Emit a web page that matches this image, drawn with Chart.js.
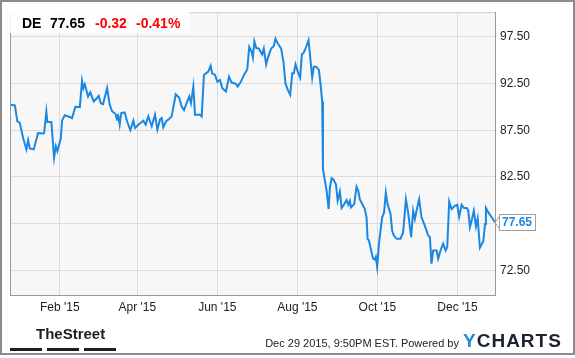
<!DOCTYPE html>
<html>
<head>
<meta charset="utf-8">
<script src="https://cdn.jsdelivr.net/npm/chart.js"></script>
<style>
  html, body { margin: 0; padding: 0; background: #fff; }
  #wrap { position: relative; width: 575px; height: 358px; overflow: hidden; font-family: "Liberation Sans", Arial, sans-serif; }
  #chart { position: absolute; left: 0; top: 0; }
  .abs { position: absolute; white-space: nowrap; }
  #frame { position: absolute; left: 0; top: 0; width: 575px; height: 355px; box-sizing: border-box; border: 2px solid #8c8c8c; pointer-events: none; }
  #quote { position: absolute; left: 10px; top: 10px; width: 180px; height: 23px; background: rgba(255,255,255,0.85); }
  .q { position: absolute; top: 5px; font: bold 14px/16px "Liberation Sans", Arial, sans-serif; }
  .bar { position: absolute; top: 348px; height: 3px; width: 32px; background: #1e1e1e; }
</style>
</head>
<body>
<div id="wrap">
  <canvas id="chart" width="575" height="358"></canvas>
  <div id="quote">
    <span class="q" style="left:12px;color:#000">DE</span>
    <span class="q" style="left:40px;color:#000">77.65</span>
    <span class="q" style="left:85px;color:#f00">-0.32</span>
    <span class="q" style="left:126px;color:#f00">-0.41%</span>
  </div>
  <div class="abs" style="left:36px;top:326px;font:bold 15px/16px 'Liberation Sans Narrow','Arial Narrow',sans-serif;color:#1e1e1e;">TheStreet</div>
  <div class="bar" style="left:10px"></div>
  <div class="bar" style="left:47px"></div>
  <div class="bar" style="left:84px"></div>
  <div class="abs" style="right:116px;top:337px;font:11px/13px 'Liberation Sans',Arial,sans-serif;color:#222;">Dec 29 2015, 9:50PM EST. Powered by</div>
  <div class="abs" style="left:463px;top:331px;font:bold 19px/19px 'Liberation Sans',Arial,sans-serif;letter-spacing:1px;color:#1c2331;"><span style="color:#1b8de0">Y</span>CHARTS</div>
  <div id="frame"></div>
</div>
<script>
// day number: 0 = Jan 1 2015
const days = [-6.4, -3.3, -1.4, 0.5, 3.0, 5.5, 6.8, 8.1, 11.1, 14.4, 18.2, 19.0, 20.7, 21.5, 24.5, 26.6, 27.9, 29.1,
  31.7, 32.7, 34.7, 38.5, 40.3, 42.8, 46.2, 47.9, 48.9, 50.0, 52.5, 54.2, 56.8, 58.8, 60.6, 62.2, 63.9, 67.0,
  69.0, 70.8, 73.3, 74.6, 75.3, 76.6, 77.8, 80.4, 82.2, 84.7, 87.0, 88.3, 90.8, 94.6, 96.4, 98.4, 101.0, 103.5,
  105.3, 107.3, 108.6, 109.8, 111.9, 113.6, 116.2, 119.3, 121.8, 123.8, 125.6, 127.6, 129.6, 130.9, 132.7, 134.0,
  137.8, 139.1, 140.8, 144.1, 145.9, 147.1, 149.2, 151.0, 153.0, 154.8, 157.6, 159.9, 161.9, 165.2, 166.5, 169.0,
  171.3, 173.8, 175.3, 177.2, 178.1, 179.2, 180.6, 182.6, 185.1, 186.4, 188.2, 189.4, 192.0, 194.1, 195.3, 197.1,
  199.6, 201.4, 202.9, 204.7, 206.5, 208.1, 209.3, 210.6, 212.3, 214.1, 215.4, 216.9, 218.7, 220.5, 222.0, 223.3,
  224.5, 226.3, 228.4, 229.7, 230.9, 231.5, 233.0, 234.3, 235.8, 236.8, 238.1, 239.3, 241.4, 242.7, 244.4, 245.7,
  247.7, 249.5, 250.8, 252.0, 252.8, 255.3, 257.1, 258.4, 259.6, 263.4, 264.7, 265.5, 266.5, 268.5, 269.7, 271.0,
  271.8, 272.8, 274.3, 276.6, 278.1, 279.4, 280.7, 283.0, 284.2, 285.5, 287.6, 290.6, 292.6, 294.7, 296.4, 298.7,
  300.2, 301.5, 302.8, 304.8, 306.6, 309.1, 311.7, 313.0, 314.2, 315.5, 318.1, 319.3, 321.1, 323.1, 325.0, 326.2,
  327.7, 329.5, 332.0, 333.8, 335.3, 337.2, 338.9, 341.0, 342.2, 343.5, 344.8, 346.5, 348.1, 349.4, 351.1, 353.7,
  355.0, 355.7, 357.5, 360.9, 362.6];
const prices = [90.23, 90.16, 88.46, 88.28, 86.68, 85.45, 86.44, 85.55, 85.45, 87.2, 87.15, 87.2, 89.52, 88.38, 88.38, 84.55, 85.8, 85.27,
  86.62, 88.53, 89.1, 88.92, 88.81, 90.02, 89.98, 92.79, 92.0, 92.43, 91.12, 91.57, 90.59, 90.87, 91.19, 90.4, 90.3, 92.02,
  90.23, 89.52, 89.27, 88.64, 89.24, 88.1, 89.34, 89.41, 88.46, 87.5, 88.53, 87.75, 88.1, 88.53, 88.1, 88.99, 87.93, 89.17,
  87.57, 88.64, 88.81, 87.82, 88.46, 88.64, 88.99, 91.36, 91.01, 90.05, 89.66, 90.41, 91.12, 90.41, 92.18, 89.17,
  89.17, 88.99, 93.43, 93.78, 94.41, 93.6, 93.43, 92.71, 92.89, 92.0, 91.65, 93.24, 92.61, 92.47, 92.18, 92.71,
  93.43, 94.02, 96.44, 95.9, 95.3, 97.04, 96.33, 96.26, 95.62, 96.26, 94.55, 95.2, 96.26, 96.54, 97.32, 96.79,
  96.26, 94.84, 92.53, 91.83, 91.3, 93.6, 93.6, 94.55, 93.78, 93.14, 95.62, 95.83, 96.44, 97.15, 95.02, 93.14,
  94.31, 94.31, 93.96, 92.36, 90.59, 83.32, 82.07, 81.01, 79.06, 81.36, 82.36, 82.25, 81.72, 79.95, 80.93, 79.17,
  79.59, 80.02, 79.52, 79.95, 79.24, 79.59, 81.44, 81.01, 80.1, 79.06, 78.17, 75.87, 75.69, 74.45, 73.74, 73.64,
  73.92, 72.85, 75.51, 78.17, 78.7, 80.83, 79.59, 78.53, 76.76, 76.22, 75.87, 75.87, 76.58, 80.12, 78.7, 76.04,
  78.88, 77.99, 78.88, 80.12, 78.17, 77.29, 76.22, 76.04, 73.2, 74.63, 74.63, 73.74, 74.63, 75.33, 74.63, 74.98,
  79.87, 79.06, 79.41, 79.52, 78.24, 79.52, 79.17, 79.17, 78.95, 77.11, 77.82, 78.88, 77.18, 78.06, 74.91, 75.62,
  77.47, 79.17, 78.7, 77.99, 77.65];
const monthDays = [31, 90, 151, 212, 273, 334];
const monthLabels = ["Feb '15", "Apr '15", "Jun '15", "Aug '15", "Oct '15", "Dec '15"];
const priceTicks = [72.5, 77.5, 82.5, 87.5, 92.5, 97.5];

const lineColor = '#1a88e3';

// plot background, left/top border and the last price flag
const plotFrame = {
  id: 'plotFrame',
  beforeDraw(chart) {
    const { ctx, chartArea: a } = chart;
    ctx.save();
    ctx.fillStyle = '#f7f7f7';
    ctx.fillRect(a.left, a.top, a.right - a.left, a.bottom - a.top);
    ctx.restore();
  },
  afterDraw(chart) {
    const { ctx, chartArea: a, scales } = chart;
    ctx.save();
    ctx.lineWidth = 1;
    ctx.strokeStyle = '#d0d0d0';
    ctx.beginPath();
    ctx.moveTo(a.left, a.top + 0.5);
    ctx.lineTo(a.right, a.top + 0.5);
    ctx.stroke();
    ctx.strokeStyle = '#9a9a9a';
    ctx.beginPath();
    ctx.moveTo(a.left + 0.5, a.top);
    ctx.lineTo(a.left + 0.5, a.bottom);
    ctx.stroke();

    const last = prices[prices.length - 1];
    const y = Math.round(scales.y.getPixelForValue(last));
    const bx = a.right + 4;
    ctx.fillStyle = '#fff';
    ctx.fillRect(bx, y - 8, 37, 17);
    ctx.strokeStyle = '#a0a0a0';
    ctx.strokeRect(bx + 0.5, y - 7.5, 36, 16);
    ctx.beginPath();
    ctx.moveTo(bx + 0.5, y - 6);
    ctx.lineTo(a.right, y + 0.5);
    ctx.lineTo(bx + 0.5, y + 7);
    ctx.stroke();
    ctx.fillStyle = lineColor;
    ctx.font = 'bold 12px "Liberation Sans", Arial, sans-serif';
    ctx.textBaseline = 'middle';
    ctx.fillText(last.toFixed(2), bx + 3, y + 1);
    ctx.restore();
  }
};

new Chart(document.getElementById('chart'), {
  type: 'line',
  data: {
    datasets: [{
      data: days.map((d, i) => ({ x: d, y: prices[i] })),
      borderColor: lineColor,
      borderWidth: 2,
      pointRadius: 0,
      tension: 0,
      fill: false
    }]
  },
  options: {
    responsive: false,
    animation: false,
    layout: { padding: { left: 10, top: 10, right: 0, bottom: 0 } },
    plugins: { legend: { display: false }, tooltip: { enabled: false } },
    scales: {
      x: {
        type: 'linear',
        min: -7,
        max: 362.6,
        afterBuildTicks: s => { s.ticks = monthDays.map(v => ({ value: v })); },
        afterFit: s => { s.height = 63; },
        grid: { color: '#dcdcdc', drawTicks: false },
        border: { color: '#9a9a9a' },
        ticks: {
          padding: 5,
          color: '#222',
          font: { family: '"Liberation Sans", Arial, sans-serif', size: 12 },
          callback: (v, i) => monthLabels[i]
        }
      },
      y: {
        position: 'right',
        min: 69.85,
        max: 100.15,
        afterBuildTicks: s => { s.ticks = priceTicks.map(v => ({ value: v })); },
        afterFit: s => { s.width = 80; },
        grid: { color: '#dcdcdc', drawTicks: false },
        border: { color: '#9a9a9a' },
        ticks: {
          padding: 5,
          color: '#222',
          font: { family: '"Liberation Sans", Arial, sans-serif', size: 12 },
          callback: v => v.toFixed(2)
        }
      }
    }
  },
  plugins: [plotFrame]
});
</script>
</body>
</html>
